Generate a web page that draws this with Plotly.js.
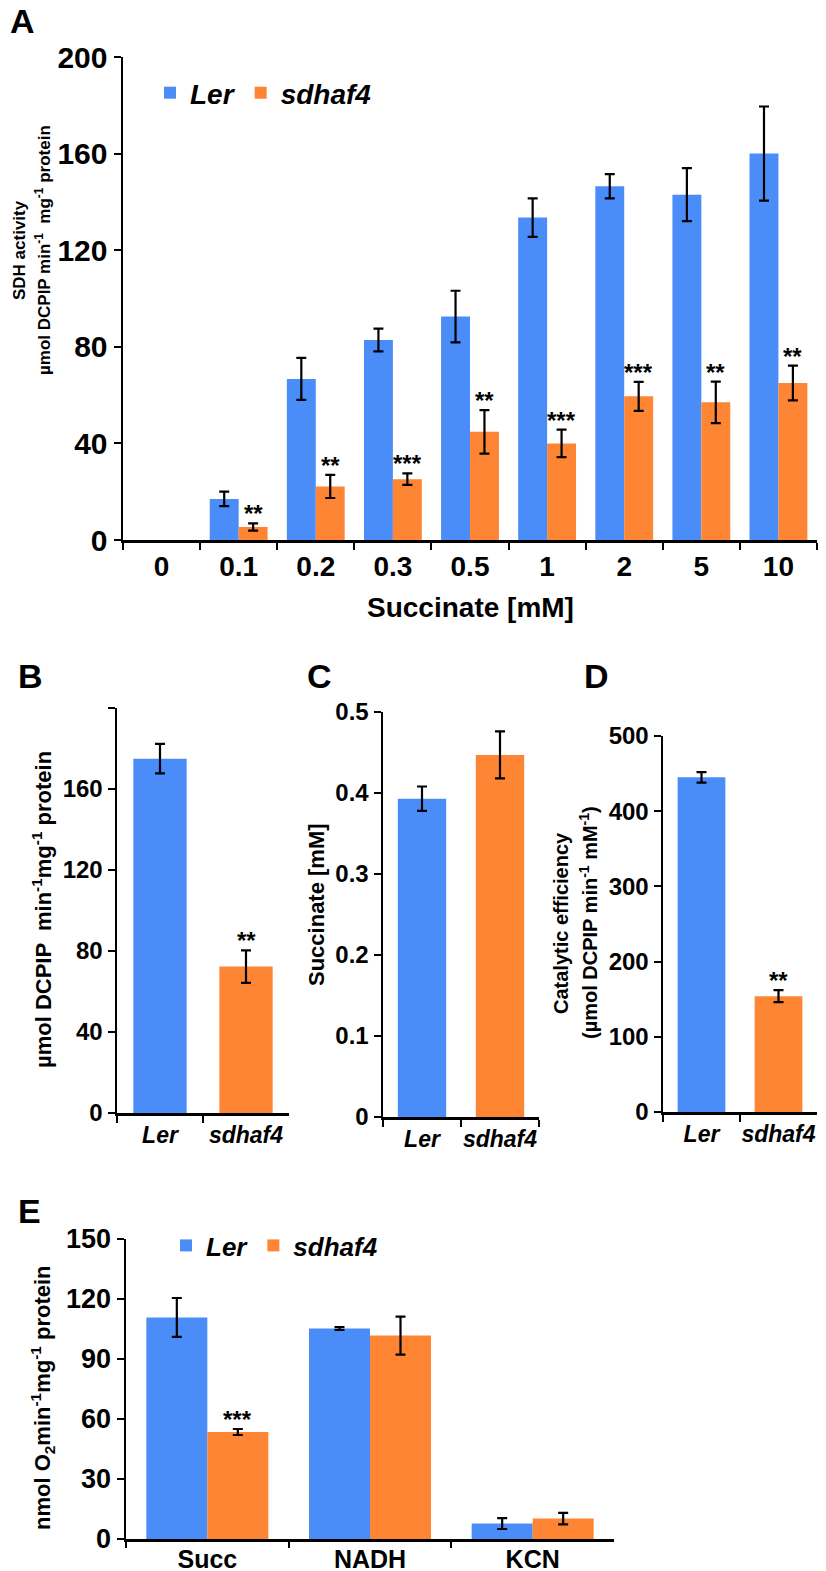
<!DOCTYPE html>
<html>
<head>
<meta charset="utf-8">
<script src="https://cdn.plot.ly/plotly-3.0.1.min.js"></script>
<style>html,body{margin:0;padding:0;background:#fff;}#chart{width:826px;height:1571px;}</style>
</head>
<body>
<div id="chart"></div>
<script>
// ---------- DATA ----------
// Panel A
const concA = ['0', '0.1', '0.2', '0.3', '0.5', '1', '2', '5', '10'];
const lerA = [0, 17, 66.7, 82.8, 92.5, 133.5, 146.5, 143, 160];
const lerAErr = [NaN, 3, 8.7, 4.7, 10.7, 8, 5, 11, 19.5];
const sdhA = [0, 5.4, 22.2, 25.2, 44.8, 40, 59.5, 57, 65];
const sdhAErr = [NaN, 1.5, 4.8, 2.4, 9, 5.7, 6, 8.6, 7.2];
const starsA = ['', '**', '**', '***', '**', '***', '***', '**', '**'];
// Panels B, C, D
const genotypes = ['Ler', 'sdhaf4'];
const vmaxB = [175, 72.3];
const vmaxBErr = [7.3, 8];
const starsB = ['', '**'];
const kmC = [0.393, 0.447];
const kmCErr = [0.015, 0.029];
const effD = [445, 154];
const effDErr = [7, 8];
const starsD = ['', '**'];
// Panel E
const substratesE = ['Succ', 'NADH', 'KCN'];
const lerE = [110.8, 105.3, 7.7];
const lerEErr = [9.7, 0.7, 2.7];
const sdhE = [53.5, 101.7, 10.2];
const sdhEErr = [1.5, 9.5, 2.9];
const starsE = ['***', '', ''];

// ---------- STYLE ----------
const BLUE = '#4B8DF8';
const ORANGE = '#FD8534';
const FONT = 'Liberation Sans, Arial, Helvetica, sans-serif';
const W = 826, H = 1571;
const px = v => v / W;
const py = v => 1 - v / H;

function errStyle(arr) {
  return {type: 'data', array: arr, visible: true, color: '#000', thickness: 2.2, width: 5};
}
function yAx(domain, range, dtick, fs, extra) {
  return Object.assign({
    domain: domain, range: range, dtick: dtick, tick0: 0,
    showline: true, linecolor: '#000', linewidth: 2.5,
    ticks: 'outside', ticklen: 7, tickwidth: 2, tickcolor: '#000',
    showgrid: false, zeroline: false, fixedrange: true,
    tickfont: {family: FONT, size: fs, color: '#000', weight: 'bold'}
  }, extra || {});
}
function xAx(domain, anchor, fs, italic, extra) {
  return Object.assign({
    domain: domain, anchor: anchor, type: 'category', tickangle: 0,
    showline: true, linecolor: '#000', linewidth: 2.5,
    ticks: 'outside', ticklen: 7, tickwidth: 2, tickcolor: '#000', tickson: 'boundaries',
    showgrid: false, zeroline: false, fixedrange: true,
    tickfont: {family: FONT, size: fs, color: '#000', weight: 'bold', style: italic ? 'italic' : 'normal'}
  }, extra || {});
}
const noLine = {width: 0};

const traces = [
  // A
  {type: 'bar', x: concA, y: lerA, name: 'Ler', marker: {color: BLUE, line: noLine}, error_y: errStyle(lerAErr),
   xaxis: 'x', yaxis: 'y', legend: 'legend'},
  {type: 'bar', x: concA, y: sdhA, name: 'sdhaf4', marker: {color: ORANGE, line: noLine}, error_y: errStyle(sdhAErr),
   xaxis: 'x', yaxis: 'y', legend: 'legend'},
  // B
  {type: 'bar', x: genotypes, y: vmaxB, width: 0.62, marker: {color: [BLUE, ORANGE], line: noLine}, error_y: errStyle(vmaxBErr),
   xaxis: 'x2', yaxis: 'y2', showlegend: false},
  // C
  {type: 'bar', x: genotypes, y: kmC, width: 0.62, marker: {color: [BLUE, ORANGE], line: noLine}, error_y: errStyle(kmCErr),
   xaxis: 'x3', yaxis: 'y3', showlegend: false},
  // D
  {type: 'bar', x: genotypes, y: effD, width: 0.62, marker: {color: [BLUE, ORANGE], line: noLine}, error_y: errStyle(effDErr),
   xaxis: 'x4', yaxis: 'y4', showlegend: false},
  // E
  {type: 'bar', x: substratesE, y: lerE, name: 'Ler', marker: {color: BLUE, line: noLine}, error_y: errStyle(lerEErr),
   xaxis: 'x5', yaxis: 'y5', legend: 'legend2'},
  {type: 'bar', x: substratesE, y: sdhE, name: 'sdhaf4', marker: {color: ORANGE, line: noLine}, error_y: errStyle(sdhEErr),
   xaxis: 'x5', yaxis: 'y5', legend: 'legend2'}
];

const annotations = [];
const half = 0.75 / 4;
function addStars(stars, vals, errs, xref, yref, offset) {
  stars.forEach((s, i) => {
    if (!s) return;
    annotations.push({xref: xref, yref: yref, x: i + offset, y: vals[i] + (errs[i] || 0),
      text: s, showarrow: false, yanchor: 'bottom', yshift: -6,
      font: {family: FONT, size: 24, color: '#000', weight: 'bold'}});
  });
}
addStars(starsA, sdhA, sdhAErr, 'x', 'y', half);
addStars(starsB, vmaxB, vmaxBErr, 'x2', 'y2', 0);
addStars(starsD, effD, effDErr, 'x4', 'y4', 0);
addStars(starsE, sdhE, sdhEErr, 'x5', 'y5', half);

function label(t, x, y) {
  annotations.push({xref: 'paper', yref: 'paper', x: px(x), y: py(y), xanchor: 'left', yanchor: 'top',
    text: t, showarrow: false, font: {family: FONT, size: 34, color: '#000', weight: 'bold'}});
}
label('A', 8, 0); label('B', 16, 655); label('C', 305, 655); label('D', 582, 655); label('E', 16, 1190);

function vtitle(t, x, y, fs) {
  annotations.push({xref: 'paper', yref: 'paper', x: px(x), y: py(y), xanchor: 'center', yanchor: 'middle',
    textangle: -90, text: t, showarrow: false, font: {family: FONT, size: fs, color: '#000', weight: 'bold'}});
}
vtitle('SDH activity', 20, 250, 17);
vtitle('µmol DCPIP min<sup>-1</sup>  mg<sup>-1</sup> protein', 43, 250, 17);
vtitle('µmol DCPIP  min<sup>-1</sup>mg<sup>-1</sup> protein', 42, 910, 22);
vtitle('Succinate [mM]', 316, 905, 22);
vtitle('Catalytic efficiency', 561, 923, 20);
vtitle('(µmol DCPIP min<sup>-1</sup> mM<sup>-1</sup>)', 588, 923, 20);
vtitle('nmol O<sub>2</sub>min<sup>-1</sup>mg<sup>-1</sup> protein', 42, 1398, 22);

annotations.push({xref: 'paper', yref: 'paper', x: px(470), y: py(607), xanchor: 'center', yanchor: 'middle',
  text: 'Succinate [mM]', showarrow: false, font: {family: FONT, size: 28, color: '#000', weight: 'bold'}});

const layout = {
  width: W, height: H,
  margin: {l: 0, r: 0, t: 0, b: 0},
  paper_bgcolor: '#fff', plot_bgcolor: 'rgba(0,0,0,0)',
  barmode: 'group', bargap: 0.25, bargroupgap: 0,
  font: {family: FONT, color: '#000'},
  xaxis: xAx([px(123), px(817)], 'y', 28, false),
  yaxis: yAx([py(540), py(57)], [0, 200], 40, 30, {anchor: 'x'}),
  xaxis2: xAx([px(117), px(289)], 'y2', 23, true),
  yaxis2: yAx([py(1113), py(708)], [0, 200], 40, 24,
    {anchor: 'x2', tickmode: 'array', tickvals: [0, 40, 80, 120, 160, 200], ticktext: ['0', '40', '80', '120', '160', '']}),
  xaxis3: xAx([px(383), px(539)], 'y3', 23, true),
  yaxis3: yAx([py(1117), py(712)], [0, 0.5], 0.1, 24, {anchor: 'x3',
    tickmode: 'array', tickvals: [0, 0.1, 0.2, 0.3, 0.4, 0.5], ticktext: ['0', '0.1', '0.2', '0.3', '0.4', '0.5']}),
  xaxis4: xAx([px(663), px(817)], 'y4', 23, true),
  yaxis4: yAx([py(1112), py(736)], [0, 500], 100, 24, {anchor: 'x4'}),
  xaxis5: xAx([px(126), px(614)], 'y5', 25, false, {ticklen: 6, ticklabelstandoff: -4}),
  yaxis5: yAx([py(1539), py(1239)], [0, 150], 30, 27, {anchor: 'x5'}),
  legend: {orientation: 'h', x: px(150), y: py(68), xanchor: 'left', yanchor: 'top',
    font: {family: FONT, size: 28, color: '#000', weight: 'bold', style: 'italic'}, bgcolor: 'rgba(0,0,0,0)'},
  legend2: {orientation: 'h', x: px(166), y: py(1222), xanchor: 'left', yanchor: 'top',
    font: {family: FONT, size: 26, color: '#000', weight: 'bold', style: 'italic'}, bgcolor: 'rgba(0,0,0,0)'},
  annotations: annotations,
  showlegend: true
};

Plotly.newPlot('chart', traces, layout, {displayModeBar: false, staticPlot: true});
</script>
</body>
</html>
